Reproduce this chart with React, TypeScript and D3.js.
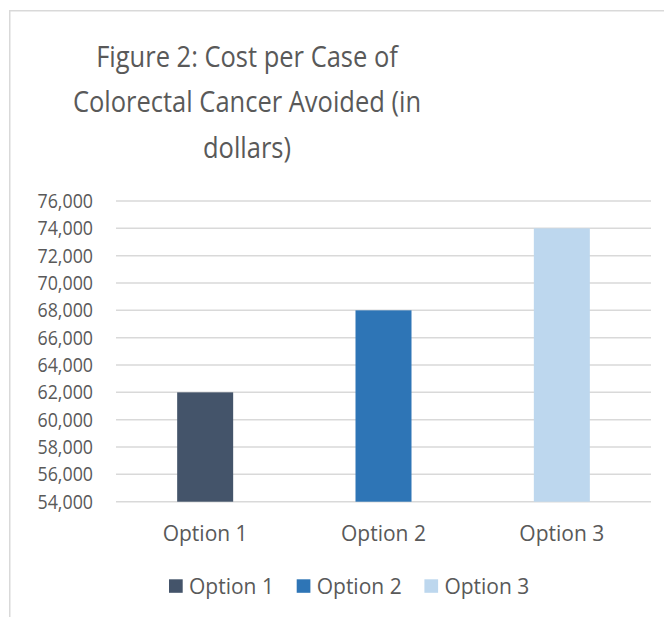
import React from "react";
import * as d3 from "d3";

const categories = ["Option 1", "Option 2", "Option 3"];
const values = [62000, 68000, 74000];
const colors = ["#44546a", "#2e75b6", "#bdd7ee"];
const titleLines = ["Figure 2: Cost per Case of", "Colorectal Cancer Avoided (in", "dollars)"];
const yTicks = d3.range(54000, 76001, 2000);

const W = 664;
const H = 617;
const FONT = "'Open Sans', 'Noto Sans', sans-serif";
const TEXT = "#595959";
const GRID = "#d9d9d9";

export default function App() {
  const x = d3
    .scaleBand<string>()
    .domain(categories)
    .range([116, 651])
    .paddingInner(0.686)
    .paddingOuter(0.343);
  const y = d3.scaleLinear().domain([54000, 76000]).range([501.7, 201]);
  const fmt = d3.format(",");
  const legendStep = 127.7;
  const legendX0 = 169;

  return (
    <svg
      width={W}
      height={H}
      style={{ position: "absolute", left: 0, top: 0, display: "block", background: "#fff" }}
      fontFamily={FONT}
    >
      <rect x={0} y={0} width={W} height={H} fill="#fff" />
      {/* outer frame (cropped right/bottom) */}
      <line x1={9.75} y1={10.75} x2={W} y2={10.75} stroke={GRID} strokeWidth={1.5} />
      <line x1={9.75} y1={10} x2={9.75} y2={H} stroke={GRID} strokeWidth={1.5} />

      {/* title */}
      {titleLines.map((t, i) => (
        <text
          key={t}
          transform={`translate(247,${66.5 + i * 45.5}) scale(0.85,1)`}
          textAnchor="middle"
          fontSize={30}
          fill={TEXT}
        >
          {t}
        </text>
      ))}

      {/* gridlines */}
      {yTicks.map((v) => (
        <line
          key={v}
          x1={116}
          x2={651}
          y1={y(v)}
          y2={y(v)}
          stroke={GRID}
          strokeWidth={1.5}
        />
      ))}

      {/* y tick labels */}
      {yTicks.map((v) => (
        <text
          key={"t" + v}
          transform={`translate(93,${y(v)}) scale(0.89,1)`}
          dy="0.35em"
          textAnchor="end"
          fontSize={20}
          fill={TEXT}
        >
          {fmt(v)}
        </text>
      ))}

      {/* bars */}
      {categories.map((c, i) => (
        <rect
          key={c}
          x={x(c)}
          y={y(values[i])}
          width={x.bandwidth()}
          height={y(54000) - y(values[i])}
          fill={colors[i]}
        />
      ))}

      {/* category labels */}
      {categories.map((c) => (
        <text
          key={"c" + c}
          x={(x(c) ?? 0) + x.bandwidth() / 2}
          y={540.5}
          textAnchor="middle"
          fontSize={21}
          fill={TEXT}
        >
          {c}
        </text>
      ))}

      {/* legend */}
      {categories.map((c, i) => (
        <g key={"l" + c} transform={`translate(${legendX0 + i * legendStep},0)`}>
          <rect x={0} y={579.3} width={13.7} height={13.5} fill={colors[i]} />
          <text x={20} y={594} fontSize={21} fill={TEXT}>
            {c}
          </text>
        </g>
      ))}
    </svg>
  );
}
